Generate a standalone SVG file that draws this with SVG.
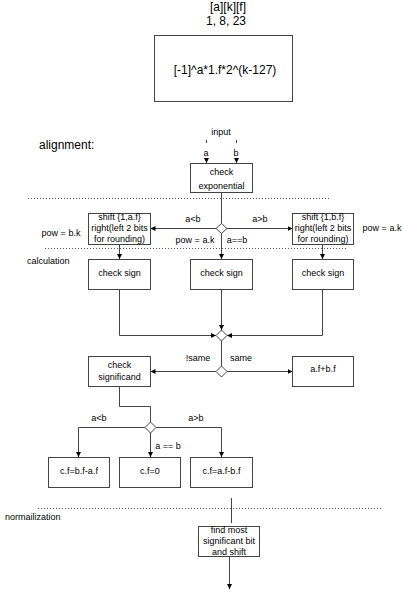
<svg xmlns="http://www.w3.org/2000/svg" width="404" height="594" viewBox="0 0 404 594">
<style>
text{font-family:"Liberation Sans",Arial,sans-serif;fill:#000;text-anchor:middle}
.t9{font-size:9px}
.t12{font-size:12px}
.box{fill:#fff;stroke:#444;stroke-width:1}
.dia{fill:#fff;stroke:#444;stroke-width:1}
.ln{fill:none;stroke:#444;stroke-width:1}
.dot{fill:none;stroke:#555;stroke-width:1;stroke-dasharray:1 2}
</style>
<defs>
<marker id="ar" viewBox="0 0 6 6" refX="6" refY="3" markerWidth="5" markerHeight="5" orient="auto" markerUnits="userSpaceOnUse">
<path d="M0,0 L6,3 L0,6 z" fill="#000"/>
</marker>
</defs>
<rect width="404" height="594" fill="#fff"/>

<g id="header">
<text class="t12" x="228" y="11">[a][k][f]</text>
<text class="t12" x="226" y="25">1, 8, 23</text>
</g>
<g id="formula">
<rect class="box" x="154.5" y="35.5" width="138" height="66"/>
<text class="t12" x="225" y="74">[-1]^a*1.f*2^(k-127)</text>
</g>

<g id="labels">
<text class="t12" x="39" y="149" style="text-anchor:start">alignment:</text>
<text class="t9" x="221" y="135">input</text>
<text class="t9" x="206" y="156">a</text>
<text class="t9" x="236" y="156">b</text>
<text class="t9" x="193" y="222">a&lt;b</text>
<text class="t9" x="260" y="222">a&gt;b</text>
<text class="t9" x="61" y="236">pow = b.k</text>
<text class="t9" x="382" y="231">pow = a.k</text>
<text class="t9" x="195" y="243">pow = a.k</text>
<text class="t9" x="237" y="243">a==b</text>
<text class="t9" x="27" y="264" style="text-anchor:start">calculation</text>
<text class="t9" x="198" y="361">!same</text>
<text class="t9" x="241" y="361">same</text>
<text class="t9" x="99" y="421">a&lt;b</text>
<text class="t9" x="196" y="421">a&gt;b</text>
<text class="t9" x="168" y="449">a == b</text>
<text class="t9" x="5" y="520" style="text-anchor:start">normailization</text>
</g>

<g id="separators">
<line class="dot" x1="28" y1="198.5" x2="330" y2="198.5"/>
<line class="dot" x1="45" y1="248.5" x2="348" y2="248.5"/>
<line class="dot" x1="38" y1="508.5" x2="382" y2="508.5"/>
</g>

<g id="connectors">
<line class="ln" x1="206.5" y1="140" x2="206.5" y2="143"/>
<line class="ln" x1="236.5" y1="140" x2="236.5" y2="143"/>
<line class="ln" x1="206.5" y1="158" x2="206.5" y2="163" marker-end="url(#ar)"/>
<line class="ln" x1="236.5" y1="158" x2="236.5" y2="163" marker-end="url(#ar)"/>
<line class="ln" x1="221.5" y1="192" x2="221.5" y2="224"/>
<line class="ln" x1="216" y1="228.5" x2="150.5" y2="228.5" marker-end="url(#ar)"/>
<line class="ln" x1="227" y1="228.5" x2="292.5" y2="228.5" marker-end="url(#ar)"/>
<line class="ln" x1="221.5" y1="233" x2="221.5" y2="259" marker-end="url(#ar)"/>
<line class="ln" x1="119.5" y1="244" x2="119.5" y2="259" marker-end="url(#ar)"/>
<line class="ln" x1="322.5" y1="244" x2="322.5" y2="259" marker-end="url(#ar)"/>
<polyline class="ln" points="119.5,289 119.5,335.5 216,335.5" marker-end="url(#ar)"/>
<polyline class="ln" points="322.5,289 322.5,335.5 227,335.5" marker-end="url(#ar)"/>
<line class="ln" x1="221.5" y1="289" x2="221.5" y2="330" marker-end="url(#ar)"/>
<line class="ln" x1="221.5" y1="341" x2="221.5" y2="366"/>
<line class="ln" x1="216" y1="371.5" x2="150.5" y2="371.5" marker-end="url(#ar)"/>
<line class="ln" x1="227" y1="371.5" x2="292.5" y2="371.5" marker-end="url(#ar)"/>
<polyline class="ln" points="119.5,386 119.5,406.5 150.5,406.5 150.5,422"/>
<polyline class="ln" points="145,427.5 78.5,427.5 78.5,457" marker-end="url(#ar)"/>
<polyline class="ln" points="156,427.5 221.5,427.5 221.5,457" marker-end="url(#ar)"/>
<line class="ln" x1="150.5" y1="433" x2="150.5" y2="457" marker-end="url(#ar)"/>
<line class="ln" x1="231.5" y1="498" x2="231.5" y2="523"/>
<line class="ln" x1="229.5" y1="556" x2="229.5" y2="589" marker-end="url(#ar)"/>
</g>

<g id="check-exponential">
<rect class="box" x="190.5" y="163.5" width="62" height="29"/>
<text class="t9" x="221.5" y="175">check</text>
<text class="t9" x="221.5" y="188.5">exponential</text>
</g>
<g id="decision-exp"><path class="dia" d="M221.5,223.5 L227,228.5 L221.5,233.5 L216,228.5 z"/></g>
<g id="shift-a">
<rect class="box" x="88.5" y="213.5" width="62" height="31"/>
<text class="t9" x="119.5" y="220">shift {1,a.f}</text>
<text class="t9" x="119.5" y="231">right(left 2 bits</text>
<text class="t9" x="119.5" y="242">for rounding)</text>
</g>
<g id="shift-b">
<rect class="box" x="292.5" y="213.5" width="61" height="31"/>
<text class="t9" x="323" y="220">shift {1,b.f}</text>
<text class="t9" x="323" y="231">right(left 2 bits</text>
<text class="t9" x="323" y="242">for rounding)</text>
</g>
<g id="check-sign-left">
<rect class="box" x="88.5" y="259.5" width="62" height="30"/>
<text class="t9" x="119.5" y="276">check sign</text>
</g>
<g id="check-sign-mid">
<rect class="box" x="190.5" y="259.5" width="62" height="30"/>
<text class="t9" x="221.5" y="276">check sign</text>
</g>
<g id="check-sign-right">
<rect class="box" x="292.5" y="259.5" width="61" height="30"/>
<text class="t9" x="323" y="276">check sign</text>
</g>
<g id="decision-sign1"><path class="dia" d="M221.5,330 L227,335.5 L221.5,341 L216,335.5 z"/></g>
<g id="decision-sign2"><path class="dia" d="M221.5,366 L227,371.5 L221.5,377 L216,371.5 z"/></g>
<g id="check-significand">
<rect class="box" x="88.5" y="356.5" width="62" height="30"/>
<text class="t9" x="119.5" y="368">check</text>
<text class="t9" x="119.5" y="379.5">significand</text>
</g>
<g id="add">
<rect class="box" x="292.5" y="356.5" width="61" height="30"/>
<text class="t9" x="323" y="372">a.f+b.f</text>
</g>
<g id="decision-sig"><path class="dia" d="M150.5,422 L156,427.5 L150.5,433 L145,427.5 z"/></g>
<g id="sub-ba">
<rect class="box" x="48.5" y="457.5" width="61" height="30"/>
<text class="t9" x="79" y="474">c.f=b.f-a.f</text>
</g>
<g id="zero">
<rect class="box" x="119.5" y="457.5" width="61" height="30"/>
<text class="t9" x="150" y="474">c.f=0</text>
</g>
<g id="sub-ab">
<rect class="box" x="190.5" y="457.5" width="62" height="30"/>
<text class="t9" x="221.5" y="474">c.f=a.f-b.f</text>
</g>
<g id="normalize">
<rect class="box" x="198.5" y="526.5" width="61" height="30"/>
<text class="t9" x="229" y="532.5">find most</text>
<text class="t9" x="229" y="544">significant bit</text>
<text class="t9" x="229" y="554.5">and shift</text>
</g>
</svg>
